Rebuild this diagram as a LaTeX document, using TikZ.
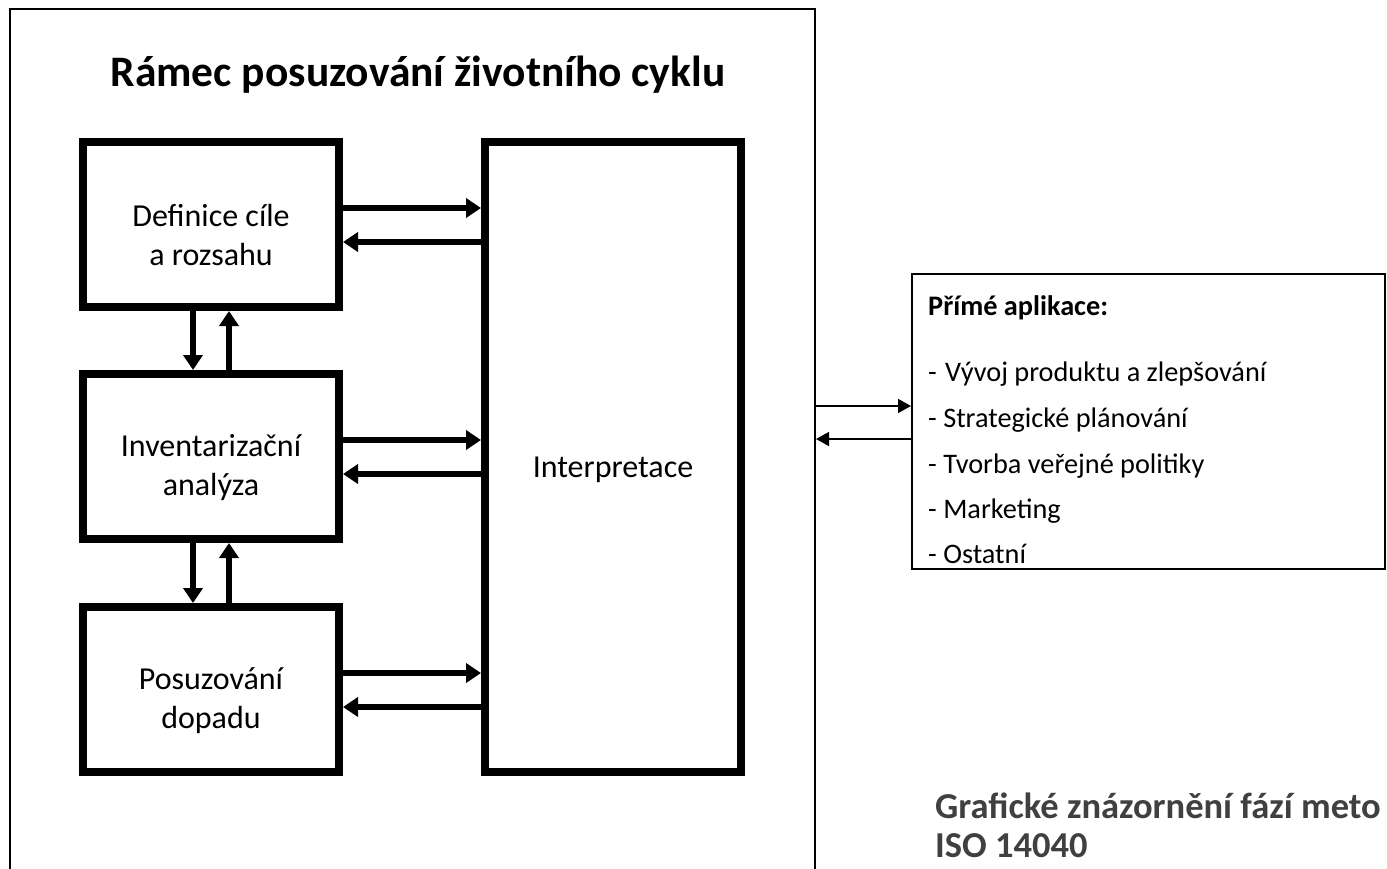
\documentclass[tikz,border=0pt]{standalone}
\usepackage{fontspec}
\setmainfont{Carlito}
\usetikzlibrary{arrows.meta,calc}
\definecolor{captiongray}{HTML}{404040}
\tikzset{
  stagebox/.style={draw, line width=8pt, minimum width=256pt, minimum height=165pt, inner sep=0pt},
  phasetext/.style={align=center, font=\fontsize{32}{39}\selectfont, yshift=-11pt, inner sep=0pt},
  thickarrow/.style={line width=6pt, -{Triangle[length=15pt,width=19pt]}},
  thinarrow/.style={line width=1.5pt, -{Triangle[length=13pt,width=14pt]}},
  listline/.style={anchor=base west, inner sep=0pt, font=\fontsize{28.3}{34}\selectfont},
  captionline/.style={anchor=base west, inner sep=0pt, text=captiongray,
    font=\fontsize{36.5}{42}\selectfont\bfseries},
}
\begin{document}
\begin{tikzpicture}[x=1pt,y=-1pt]
\useasboundingbox (0,0) rectangle (1387,868);
\clip (0,0) rectangle (1387,868);
\fill[white] (0,0) rectangle (1387,868);

% outer frame of the LCA framework (its bottom edge runs off the page)
\node[draw, line width=2pt, minimum width=805pt, minimum height=900pt,
      anchor=north west, inner sep=0pt] (frame) at (9,8) {};
\node[font=\fontsize{43.5}{48}\selectfont\bfseries, anchor=base] (title) at (418,86)
  {Rámec posuzování životního cyklu};

% the four phases
\node[stagebox, label={[phasetext, name=goaltext]center:Definice cíle\\a rozsahu}] (goal) at (211,224.5) {};
\node[stagebox, label={[phasetext, name=invtext]center:Inventarizační\\analýza}] (inv) at (211,456.5) {};
\node[stagebox, label={[phasetext, name=imptext]center:Posuzování\\dopadu}] (imp) at (211,689.5) {};
\node[draw, line width=8pt, minimum width=256pt, minimum height=630pt, inner sep=0pt]
  (interp) at (613,457) {};
\node[font=\fontsize{32}{39}\selectfont] (interptext) at (613,470) {Interpretace};

% links between each phase and the interpretation
\foreach \b in {goal,inv,imp}{
  \draw[thickarrow] ([yshift=-70pt]\b.north east) -- ([yshift=-70pt]\b.north east -| interp.west);
  \draw[thickarrow] ([yshift=-104pt]\b.north east -| interp.west) -- ([yshift=-104pt]\b.north east);
}

% links between consecutive phases
\draw[thickarrow] ([xshift=114pt]goal.south west) -- ([xshift=114pt]goal.south west |- inv.north);
\draw[thickarrow] ([xshift=150pt]inv.north west) -- ([xshift=150pt]inv.north west |- goal.south);
\draw[thickarrow] ([xshift=114pt]inv.south west) -- ([xshift=114pt]inv.south west |- imp.north);
\draw[thickarrow] ([xshift=150pt]imp.north west) -- ([xshift=150pt]imp.north west |- inv.south);

% direct applications
\node[draw, line width=2pt, minimum width=473pt, minimum height=295pt, inner sep=0pt]
  (apps) at (1148.5,421.5) {};
\node[listline, font=\fontsize{28.3}{34}\selectfont\bfseries] (head) at (928,315) {Přímé aplikace:};
\node[listline] (item1) at (928,381) {-\kern2pt\ Vývoj produktu a zlepšování};
\node[listline] (item2) at (928,427) {- Strategické plánování};
\node[listline] (item3) at (928,473) {- Tvorba veřejné politiky};
\node[listline] (item4) at (928,518) {- Marketing};
\node[listline] (item5) at (928,563) {- Ostatní};

\draw[thinarrow] ([yshift=-133pt]apps.north west -| frame.east) -- ([yshift=-133pt]apps.north west);
\draw[thinarrow] ([yshift=-166pt]apps.north west) -- ([yshift=-166pt]apps.north west -| frame.east);

% caption
\node[captionline] (cap1) at (935,818) {Grafické znázornění fází meto};
\node[captionline] (cap2) at (935,857) {ISO 14040};
\end{tikzpicture}
\end{document}
